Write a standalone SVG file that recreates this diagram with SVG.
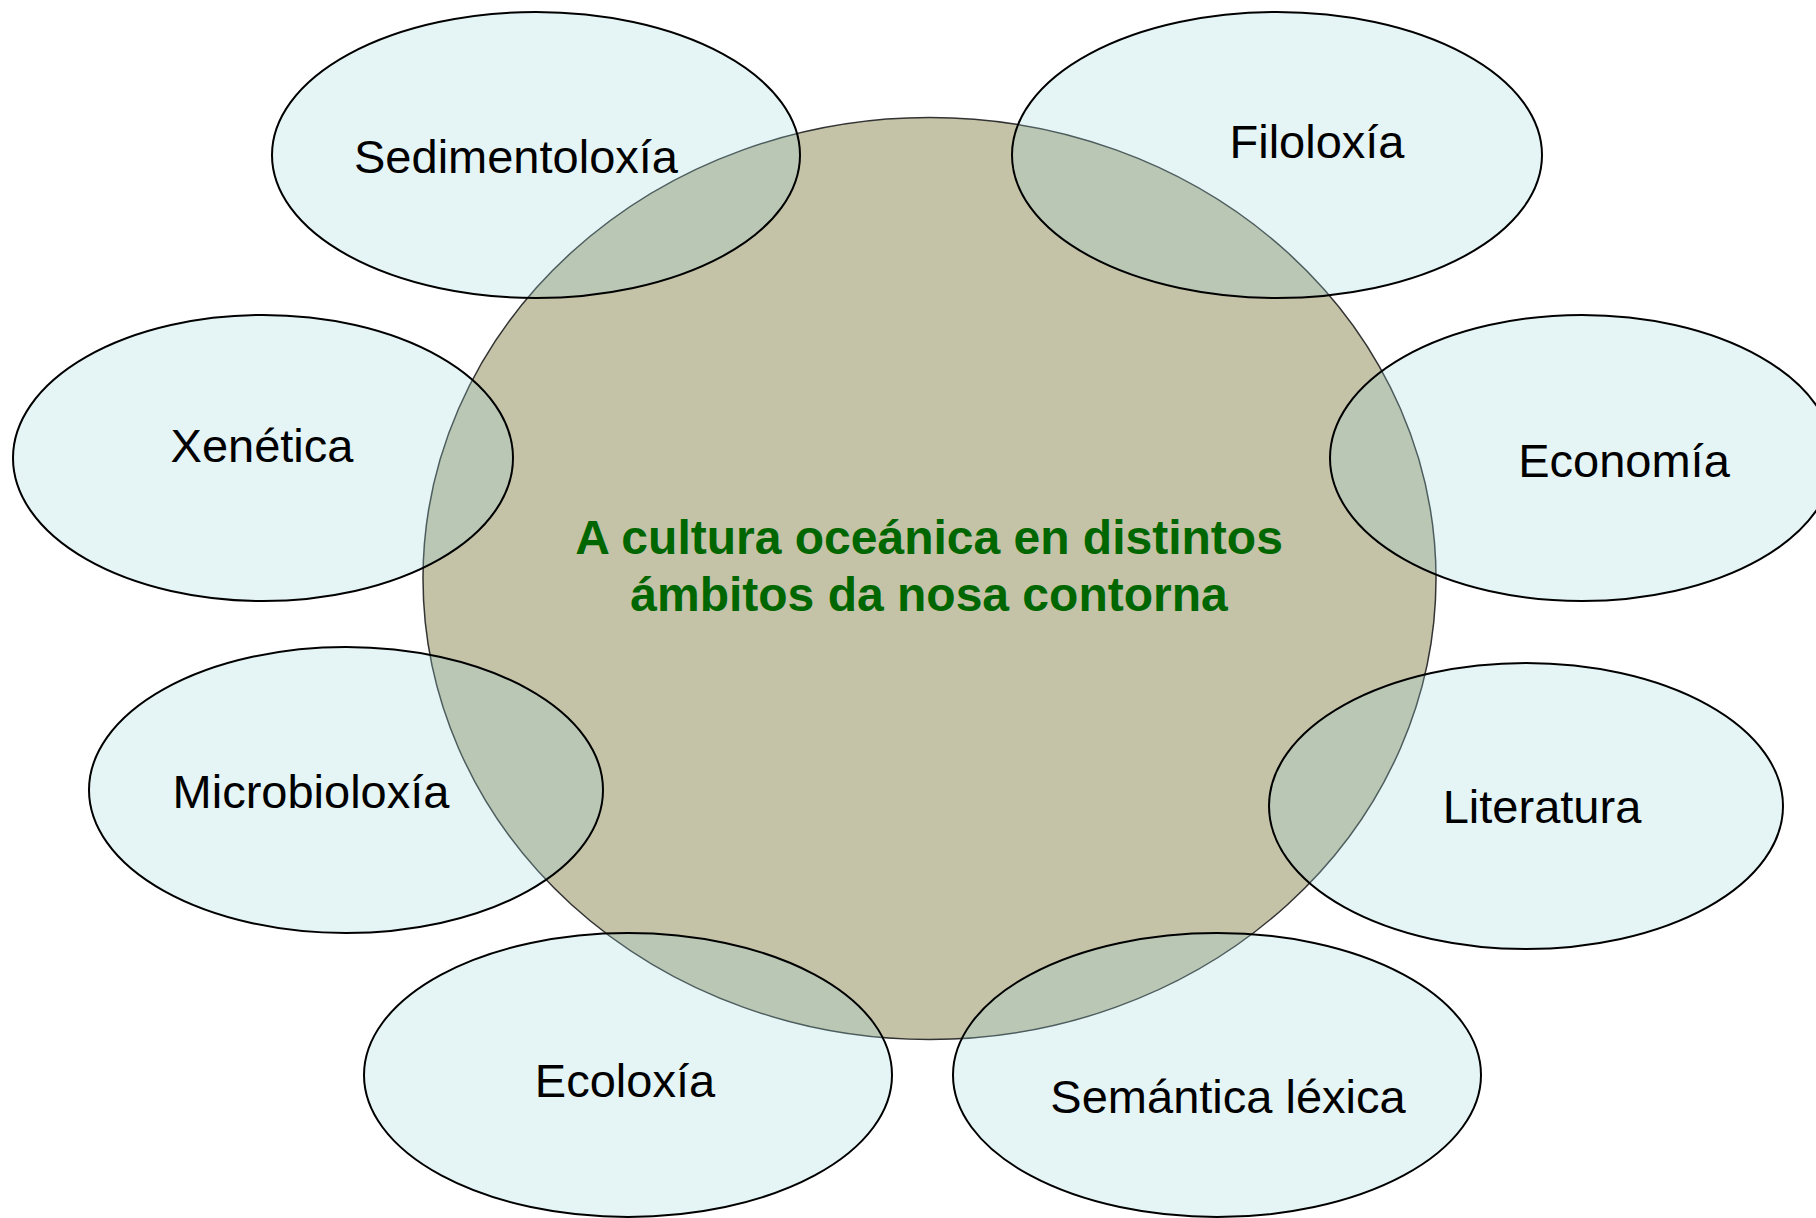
<svg xmlns="http://www.w3.org/2000/svg" width="1816" height="1218" viewBox="0 0 1816 1218">
  <style>
    .bub { fill: #9cd3d8; fill-opacity: 0.26; stroke: #000; stroke-width: 2; }
    .lbl { font-family: "Liberation Sans", Arial, sans-serif; font-size: 47px; fill: #000; text-anchor: middle; }
    .title { font-family: "Liberation Sans", Arial, sans-serif; font-size: 48px; font-weight: bold; fill: #006600; text-anchor: middle; }
  </style>
  <rect width="1816" height="1218" fill="#ffffff"/>
  <g id="centre">
    <ellipse cx="929.5" cy="578.5" rx="506.5" ry="461" fill="#c4c3a8" stroke="#333" stroke-width="1.5"/>
  </g>
  <g id="connectors"></g>
  <g id="sedimentoloxia">
    <ellipse class="bub" cx="536" cy="155" rx="264" ry="143"/>
    <text class="lbl" x="516" y="173">Sedimentoloxía</text>
  </g>
  <g id="filoloxia">
    <ellipse class="bub" cx="1277" cy="155" rx="265" ry="143"/>
    <text class="lbl" x="1317" y="158">Filoloxía</text>
  </g>
  <g id="xenetica">
    <ellipse class="bub" cx="263" cy="458" rx="250" ry="143"/>
    <text class="lbl" x="262" y="462">Xenética</text>
  </g>
  <g id="economia">
    <ellipse class="bub" cx="1582" cy="458" rx="252" ry="143"/>
    <text class="lbl" x="1624" y="477">Economía</text>
  </g>
  <g id="microbioloxia">
    <ellipse class="bub" cx="346" cy="790" rx="257" ry="143"/>
    <text class="lbl" x="311" y="808">Microbioloxía</text>
  </g>
  <g id="literatura">
    <ellipse class="bub" cx="1526" cy="806" rx="257" ry="143"/>
    <text class="lbl" x="1542" y="823">Literatura</text>
  </g>
  <g id="ecoloxia">
    <ellipse class="bub" cx="628" cy="1075" rx="264" ry="142"/>
    <text class="lbl" x="625" y="1097">Ecoloxía</text>
  </g>
  <g id="semantica">
    <ellipse class="bub" cx="1217" cy="1075" rx="264" ry="142"/>
    <text class="lbl" x="1228" y="1113">Semántica léxica</text>
  </g>
  <g id="centre-label">
    <text class="title" x="929" y="554">A cultura oceánica en distintos</text>
    <text class="title" x="929" y="611">ámbitos da nosa contorna</text>
  </g>
</svg>
